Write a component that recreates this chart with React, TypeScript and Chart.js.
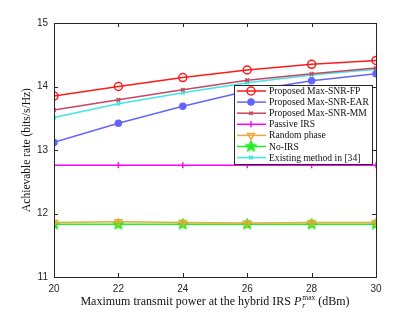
import React, { useEffect, useRef } from "react";
import { Chart, registerables } from "chart.js";
import { drawPoint } from "chart.js/helpers";

Chart.register(...registerables);

const powers = [20, 22, 24, 26, 28, 30];
const fp = [13.85, 14.0, 14.14, 14.26, 14.35, 14.41];
const ear = [13.12, 13.42, 13.69, 13.93, 14.09, 14.2];
const mm = [13.63, 13.79, 13.95, 14.1, 14.2, 14.29];
const passive = [12.76, 12.76, 12.76, 12.76, 12.76, 12.76];
const randomPhase = [11.86, 11.87, 11.86, 11.85, 11.86, 11.86];
const noIrs = [11.83, 11.83, 11.83, 11.83, 11.83, 11.83];
const existing = [13.51, 13.73, 13.9, 14.06, 14.18, 14.27];

const xTicks = [20, 22, 24, 26, 28, 30];
const yTicks = [11, 12, 13, 14, 15];

function makeStar(color: string, r: number) {
  const c = document.createElement("canvas");
  const size = Math.ceil(r * 2 + 2);
  c.width = size;
  c.height = size;
  const g = c.getContext("2d")!;
  const cx = size / 2, cy = size / 2;
  g.beginPath();
  for (let i = 0; i < 10; i++) {
    const rr = i % 2 === 0 ? r : r * 0.45;
    const ang = -Math.PI / 2 + (i * Math.PI) / 5;
    const x = cx + rr * Math.cos(ang);
    const y = cy + rr * Math.sin(ang);
    if (i === 0) g.moveTo(x, y);
    else g.lineTo(x, y);
  }
  g.closePath();
  g.fillStyle = color;
  g.fill();
  g.strokeStyle = color;
  g.lineWidth = 1;
  g.stroke();
  return c;
}

const series = [
  { label: "Proposed Max-SNR-FP", data: fp, color: "#ff1a1a", style: "circle", radius: 4, fill: false, rot: 0 },
  { label: "Proposed Max-SNR-EAR", data: ear, color: "#6464ff", style: "circle", radius: 3, fill: true, rot: 0 },
  { label: "Proposed Max-SNR-MM", data: mm, color: "#c8465f", style: "crossRot", radius: 2.5, fill: false, rot: 0 },
  { label: "Passive IRS", data: passive, color: "#ff00ff", style: "line", radius: 3, fill: false, rot: 90 },
  { label: "Random phase", data: randomPhase, color: "#eaa93a", style: "triangle", radius: 4, fill: false, rot: 180 },
  { label: "No-IRS", data: noIrs, color: "#22ee22", style: "starImg", radius: 6, fill: true, rot: 0 },
  { label: "Existing method in [34]", data: existing, color: "#3ee6e6", style: "crossRot", radius: 2.5, fill: false, rot: 0 },
];

const AXIS = "#262626";
const SERIF = "'Liberation Serif', 'DejaVu Serif', serif";
const SANS = "'Liberation Sans', Arial, sans-serif";

export default function App() {
  const ref = useRef<HTMLCanvasElement>(null);
  useEffect(() => {
    document.body.style.margin = "0";
    const stars: Record<string, HTMLCanvasElement> = {};
    const styleOf = (s: any) => {
      if (s.style === "starImg") {
        if (!stars[s.color]) stars[s.color] = makeStar(s.color, s.radius);
        return stars[s.color];
      }
      return s.style;
    };

    const framePlugin = {
      id: "frame",
      afterDraw(chart: any) {
        const { ctx, chartArea: a, scales } = chart;
        ctx.save();
        ctx.strokeStyle = AXIS;
        ctx.lineWidth = 1;
        ctx.strokeRect(Math.round(a.left) + 0.5, Math.round(a.top) + 0.5, Math.round(a.right - a.left), Math.round(a.bottom - a.top));
        ctx.beginPath();
        for (const v of xTicks) {
          const x = Math.round(scales.x.getPixelForValue(v)) + 0.5;
          ctx.moveTo(x, a.bottom);
          ctx.lineTo(x, a.bottom - 4);
          ctx.moveTo(x, a.top);
          ctx.lineTo(x, a.top + 4);
        }
        for (const v of yTicks) {
          const y = Math.round(scales.y.getPixelForValue(v)) + 0.5;
          ctx.moveTo(a.left, y);
          ctx.lineTo(a.left + 4, y);
          ctx.moveTo(a.right, y);
          ctx.lineTo(a.right - 4, y);
        }
        ctx.stroke();

        // Legend
        const lx = 234, ly = 85, lw = 138, lh = 79;
        ctx.fillStyle = "#ffffff";
        ctx.fillRect(lx, ly, lw, lh);
        ctx.strokeStyle = AXIS;
        ctx.strokeRect(lx + 0.5, ly + 0.5, lw, lh);
        ctx.font = `9.6px ${SERIF}`;
        ctx.textBaseline = "middle";
        ctx.textAlign = "left";
        series.forEach((s, i) => {
          const y = ly + 6 + i * 11.1;
          ctx.strokeStyle = s.color;
          ctx.lineWidth = 1.5;
          ctx.beginPath();
          ctx.moveTo(lx + 3, y);
          ctx.lineTo(lx + 32, y);
          ctx.stroke();
          ctx.fillStyle = s.fill ? s.color : "rgba(0,0,0,0)";
          ctx.strokeStyle = s.color;
          ctx.lineWidth = 1.5;
          drawPoint(ctx, { pointStyle: styleOf(s), radius: s.radius, rotation: s.rot, borderWidth: 1.5 } as any, lx + 17, y);
          ctx.fillStyle = "#111";
          ctx.fillText(s.label, lx + 35, y + 0.5);
        });

        // Axis titles
        ctx.fillStyle = "#111";
        ctx.textBaseline = "alphabetic";
        const cx = (a.left + a.right) / 2;
        const F = 12;
        const main = "Maximum transmit power at the hybrid IRS ";
        ctx.font = `${F}px ${SERIF}`;
        const w1 = ctx.measureText(main).width;
        ctx.font = `italic ${F}px ${SERIF}`;
        const wP = ctx.measureText("P").width;
        ctx.font = `7.5px ${SERIF}`;
        const wMax = ctx.measureText("max").width;
        ctx.font = `${F}px ${SERIF}`;
        const wEnd = ctx.measureText(" (dBm)").width;
        const total = w1 + wP + wMax + 1 + wEnd;
        let x = cx - total / 2;
        const by = 305;
        ctx.font = `${F}px ${SERIF}`;
        ctx.fillText(main, x, by);
        x += w1;
        ctx.font = `italic ${F}px ${SERIF}`;
        ctx.fillText("P", x, by);
        x += wP + 1;
        ctx.font = `italic 7.5px ${SERIF}`;
        ctx.fillText("r", x, by + 3);
        ctx.font = `7.5px ${SERIF}`;
        ctx.fillText("max", x, by - 5);
        x += wMax;
        ctx.font = `${F}px ${SERIF}`;
        ctx.fillText(" (dBm)", x, by);

        ctx.save();
        ctx.translate(30, (a.top + a.bottom) / 2);
        ctx.rotate(-Math.PI / 2);
        ctx.textAlign = "center";
        ctx.font = `11.5px ${SERIF}`;
        ctx.fillText("Achievable rate (bits/s/Hz)", 0, 0);
        ctx.restore();
        ctx.restore();
      },
    };

    const chart = new Chart(ref.current!, {
      type: "line",
      data: {
        datasets: series
          .map((s, i) => ({
            label: s.label,
            data: powers.map((p, j) => ({ x: p, y: s.data[j] })),
            borderColor: s.color,
            backgroundColor: s.fill ? s.color : "rgba(0,0,0,0)",
            pointBackgroundColor: s.fill ? s.color : "rgba(0,0,0,0)",
            pointBorderColor: s.color,
            pointStyle: styleOf(s) as any,
            pointRadius: s.radius,
            pointRotation: s.rot,
            pointBorderWidth: 1.5,
            borderWidth: 1.5,
            tension: 0,
            order: i,
          }))
          .reverse(),
      },
      options: {
        responsive: false,
        animation: false,
        layout: { padding: { top: 23, right: 39, left: 0, bottom: 0 } },
        plugins: { legend: { display: false }, tooltip: { enabled: false } },
        scales: {
          x: {
            type: "linear",
            min: 20,
            max: 30,
            grid: { display: false, drawTicks: false },
            border: { display: false },
            afterFit: (s: any) => { s.height = 35; },
            afterBuildTicks: (s: any) => { s.ticks = xTicks.map((v) => ({ value: v })); },
            ticks: { color: AXIS, font: { family: SANS, size: 10 }, padding: 6, maxRotation: 0 },
          },
          y: {
            min: 11,
            max: 15,
            grid: { display: false, drawTicks: false },
            border: { display: false },
            afterFit: (s: any) => { s.width = 54; },
            afterBuildTicks: (s: any) => { s.ticks = yTicks.map((v) => ({ value: v })); },
            ticks: { color: AXIS, font: { family: SANS, size: 10 }, padding: 6 },
          },
        },
      },
      plugins: [framePlugin],
    });
    return () => chart.destroy();
  }, []);
  return (
    <div style={{ position: "absolute", left: 0, top: 0, width: 415, height: 312, background: "#fff" }}>
      <canvas ref={ref} width={415} height={312} />
    </div>
  );
}
